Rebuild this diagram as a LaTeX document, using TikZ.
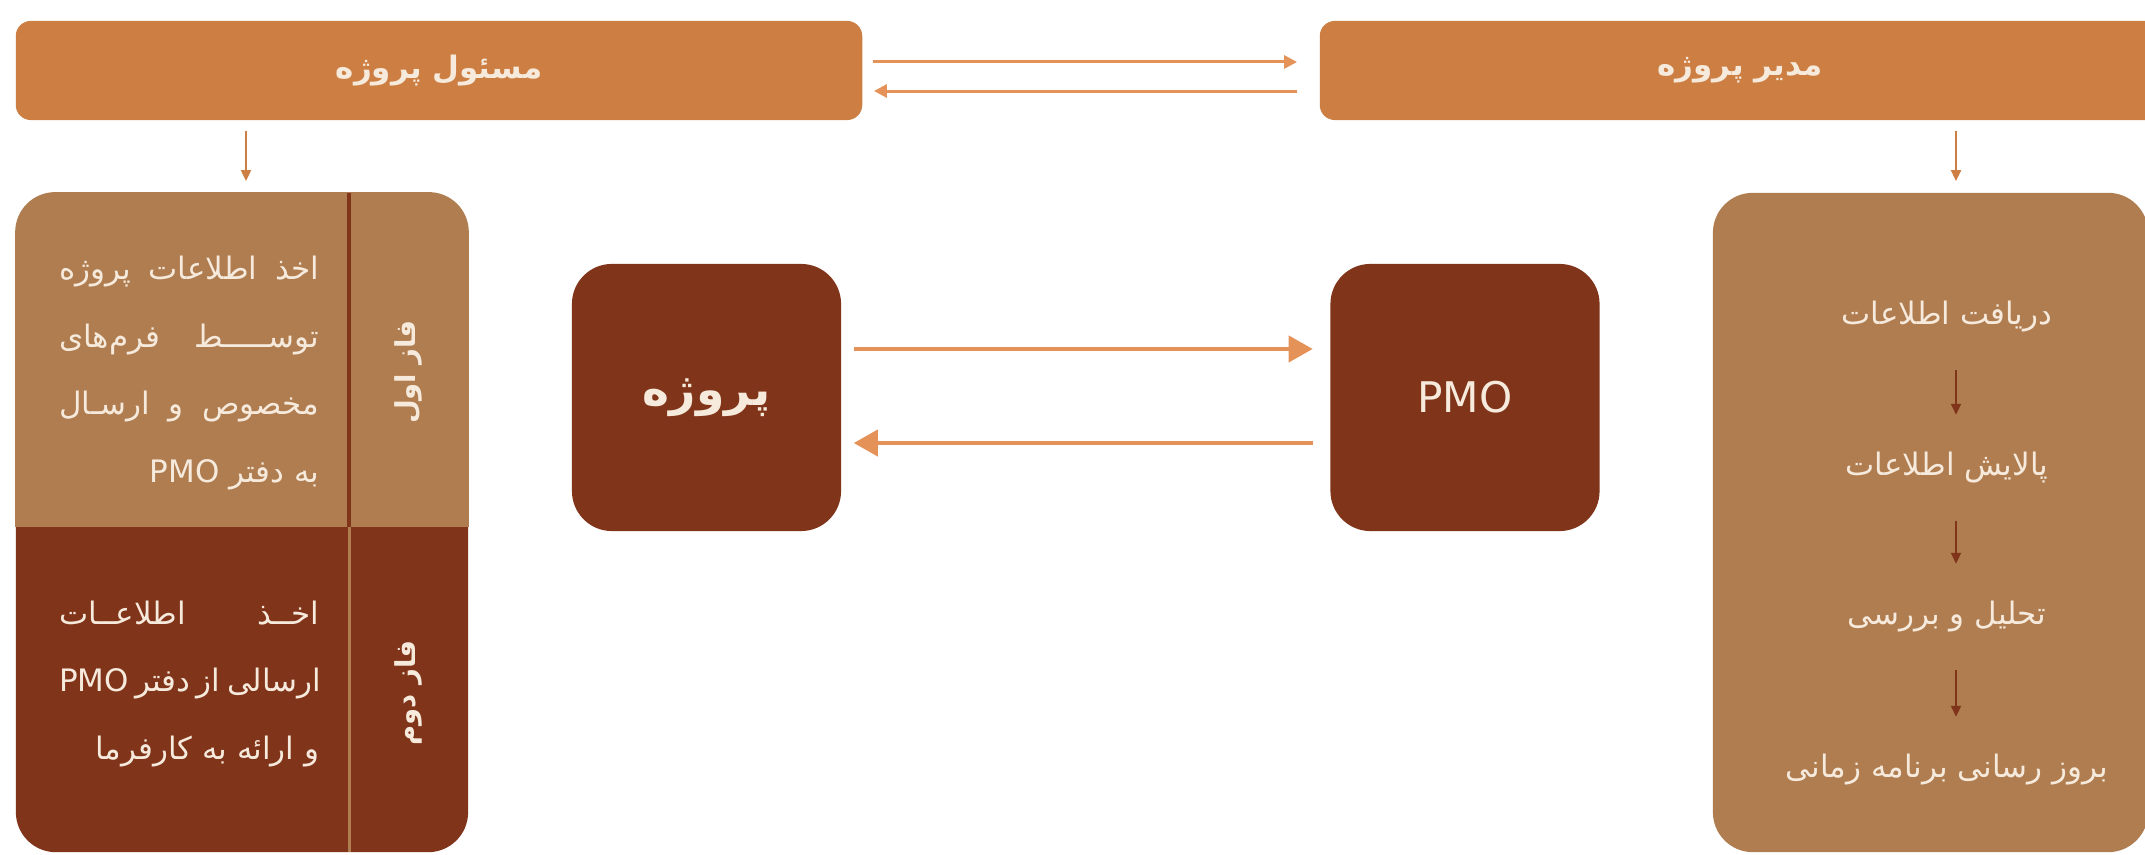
\documentclass[tikz,border=0pt]{standalone}
\usepackage{fontspec}
\setmainfont{DejaVu Sans}
\newfontfamily\farsi[Script=Arabic]{DejaVu Sans}
\TeXXeTstate=1
\usetikzlibrary{arrows.meta,positioning}

\definecolor{barorange}{RGB}{205,127,67}
\definecolor{tanbrown}{RGB}{176,125,81}
\definecolor{rust}{RGB}{128,52,26}
\definecolor{arroworange}{RGB}{228,146,88}
\definecolor{cream}{RGB}{246,234,220}

\newcommand{\fa}[1]{{\farsi\beginR #1\endR}}
\newcommand{\jline}[1]{\makebox[2.6cm][s]{\beginR #1\endR}}
\newcommand{\rline}[1]{\makebox[2.6cm][r]{\beginR #1\endR}}
\newcommand{\pmo}{\beginL PMO\endL}

\begin{document}
\begin{tikzpicture}[x=0.01cm,y=-0.01cm]
  \tikzstyle{titlebar}=[fill=barorange,rounded corners=0.15cm,minimum height=0.99cm,inner sep=0pt,text=cream,font=\farsi\bfseries\fontsize{8.8}{11}\selectfont]
  \tikzstyle{panel}=[rounded corners=0.4cm,minimum width=4.52cm,minimum height=6.59cm,inner sep=0pt]
  \tikzstyle{core}=[fill=rust,rounded corners=0.4cm,minimum width=2.69cm,minimum height=2.67cm,text=cream]
  \tikzstyle{phasetext}=[text=cream,align=right,inner sep=0pt,font=\farsi\fontsize{8.8}{19.3}\selectfont]
  \tikzstyle{phaselabel}=[text=cream,rotate=90,font=\farsi\bfseries\fontsize{7.8}{9}\selectfont]
  \tikzstyle{steptext}=[text=cream,inner sep=0pt,text height=0.25cm,text depth=0.1cm,font=\farsi\fontsize{8.8}{11}\selectfont]
  \tikzstyle{link}=[draw=arroworange,line width=0.03cm,-{Triangle[length=0.13cm,width=0.13cm]}]
  \tikzstyle{flow}=[draw=arroworange,line width=0.04cm,-{Triangle[length=0.24cm,width=0.26cm]}]
  \tikzstyle{drop}=[draw=barorange,line width=0.02cm,-{Triangle[length=0.11cm,width=0.1cm]}]
  \tikzstyle{nextstep}=[draw=rust,line width=0.02cm,shorten <=0.35cm,shorten >=0.35cm,-{Triangle[length=0.11cm,width=0.1cm]}]
  \useasboundingbox (0,0) rectangle (2145,855);
  % top bars
  \node[titlebar,minimum width=8.46cm] (resp) at (439,70.5) {\fa{مسئول پروژه}};
  \node[titlebar,minimum width=8.40cm] (mgr)  at (1740,70.5) {\fa{مدیر پروژه}};
  \draw[link,shorten <=0.1cm,shorten >=0.22cm] ([yshift=0.085cm]resp.east) -- ([yshift=0.085cm]resp.east -| mgr.west);
  \draw[link,shorten <=0.22cm,shorten >=0.11cm] ([yshift=-0.205cm]mgr.west) -- ([yshift=-0.205cm]mgr.west -| resp.east);
  % left panel
  \node[panel,fill=rust] (phases) at (242,522.5) {};
  \begin{scope}
    \clip (phases.north west) rectangle (phases.east |- 0,527);
    \fill[tanbrown,rounded corners=0.4cm] (phases.north west) rectangle (phases.south east);
  \end{scope}
  \draw[rust,line width=0.04cm] (349,193) -- (349,527);
  \draw[tanbrown,line width=0.03cm] (349,527) -- (349,852);
  \node[phaselabel] (firstphase)  at (408,372) {\beginR فاز اول\endR};
  \node[phaselabel] (secondphase) at (408,693) {\beginR فاز دوم\endR};
  \node[phasetext,anchor=east] (firsttext) at (320,373) {%
    \jline{اخذ اطلاعات پروژه}\\
    \jline{توســـــط فرم‌های}\\
    \jline{مخصوص و ارسـال}\\
    \rline{به دفتر \pmo}};
  \node[phasetext,anchor=east] (secondtext) at (320,684) {%
    \jline{اخــذ اطلاعــات}\\
    \jline{ارسالی از دفتر \pmo}\\
    \rline{و ارائه به کارفرما}};
  \draw[drop,shorten <=0.1cm,shorten >=0.11cm] (resp.south -| 246,0) -- (phases.north -| 246,0);
  % centre
  \node[core,font=\farsi\bfseries\fontsize{13}{16}\selectfont] (project) at (706.5,397.5) {\beginR پروژه\endR};
  \node[core,font=\fontsize{12}{14}\selectfont] (pmo) at (1465,397.5) {PMO};
  \draw[flow,shorten <=0.12cm,shorten >=0.17cm] ([yshift=0.485cm]project.east) -- ([yshift=0.485cm]pmo.west);
  \draw[flow,shorten <=0.17cm,shorten >=0.12cm] ([yshift=-0.455cm]pmo.west) -- ([yshift=-0.455cm]project.east);
  % right panel
  \node[panel,fill=tanbrown,minimum width=4.35cm] (steps) at (1930.5,522.5) {};
  \draw[drop,shorten <=0.1cm,shorten >=0.11cm] (mgr.south -| 1956,0) -- (steps.north -| 1956,0);
  \coordinate (flowline) at (1956,0);
  \node[steptext] (s1) at (1947,317) {\beginR دریافت اطلاعات\endR};
  \node[steptext] (s2) at (1947,468) {\beginR پالایش اطلاعات\endR};
  \node[steptext] (s3) at (1947,617) {\beginR تحلیل و بررسی\endR};
  \node[steptext] (s4) at (1947,770) {\beginR بروز رسانی برنامه زمانی\endR};
  \foreach \a/\b in {s1/s2,s2/s3,s3/s4}
    \draw[nextstep] (\a.south -| flowline) -- (\b.north -| flowline);
\end{tikzpicture}
\end{document}
